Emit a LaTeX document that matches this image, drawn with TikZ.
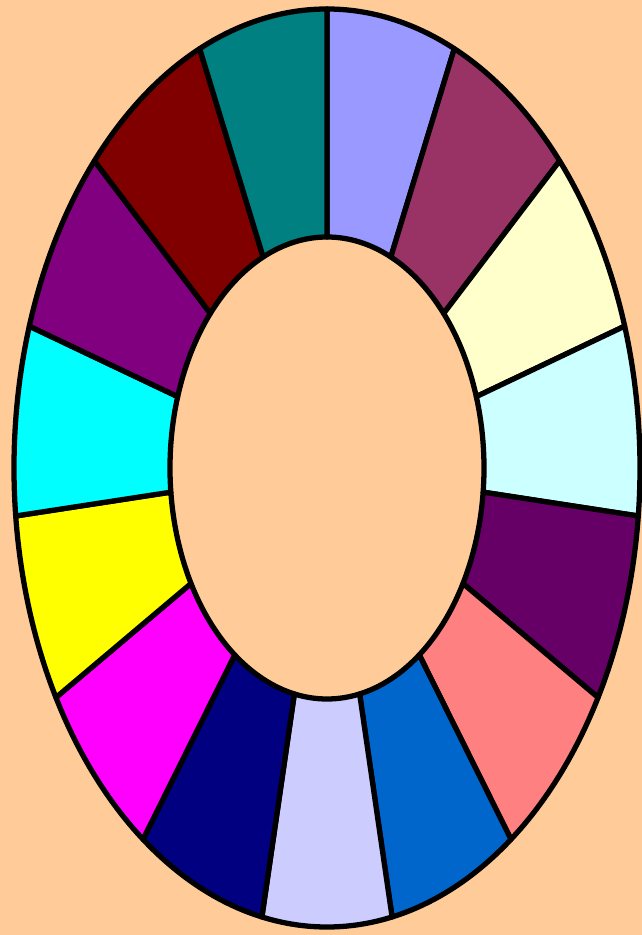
\documentclass[tikz,border=0pt]{standalone}
\usepackage{xcolor}
\usepackage{tikz}
\definecolor{ringbg}{HTML}{FFCC99}
\definecolor{seg1}{HTML}{9999FF}
\definecolor{seg2}{HTML}{993366}
\definecolor{seg3}{HTML}{FFFFCC}
\definecolor{seg4}{HTML}{CCFFFF}
\definecolor{seg5}{HTML}{660066}
\definecolor{seg6}{HTML}{FF8080}
\definecolor{seg7}{HTML}{0066CC}
\definecolor{seg8}{HTML}{CCCCFF}
\definecolor{seg9}{HTML}{000080}
\definecolor{seg10}{HTML}{FF00FF}
\definecolor{seg11}{HTML}{FFFF00}
\definecolor{seg12}{HTML}{00FFFF}
\definecolor{seg13}{HTML}{800080}
\definecolor{seg14}{HTML}{800000}
\definecolor{seg15}{HTML}{008080}
\tikzset{seg/.style={draw=black, line width=3pt, line join=round}}
\newcommand{\ringseg}[3]{%
  \filldraw[seg, fill=#3] (#1:31.3 and 45.9) arc (#1:#2:31.3 and 45.9)
    -- (#2:15.7 and 23.1) arc (#2:#1:15.7 and 23.1) -- cycle;}
\begin{document}
\begin{tikzpicture}[scale=0.2]
% Background
\useasboundingbox (-32.7,-46.7) rectangle (31.5,46.8);
\fill[ringbg] (-32.7,-46.7) rectangle (31.5,46.8);
% Right half (top to bottom)
\ringseg{90}{66}{seg1}
\ringseg{66}{42}{seg2}
\ringseg{42}{18}{seg3}
\ringseg{18}{-6}{seg4}
\ringseg{-6}{-30}{seg5}
\ringseg{-30}{-54}{seg6}
\ringseg{-54}{-78}{seg7}
% Bottom
\ringseg{-78}{-102}{seg8}
% Left half (bottom to top)
\ringseg{-102}{-126}{seg9}
\ringseg{-126}{-150}{seg10}
\ringseg{-150}{-174}{seg11}
\ringseg{-174}{-198}{seg12}
\ringseg{-198}{-222}{seg13}
\ringseg{-222}{-246}{seg14}
\ringseg{-246}{-270}{seg15}
\end{tikzpicture}
\end{document}
